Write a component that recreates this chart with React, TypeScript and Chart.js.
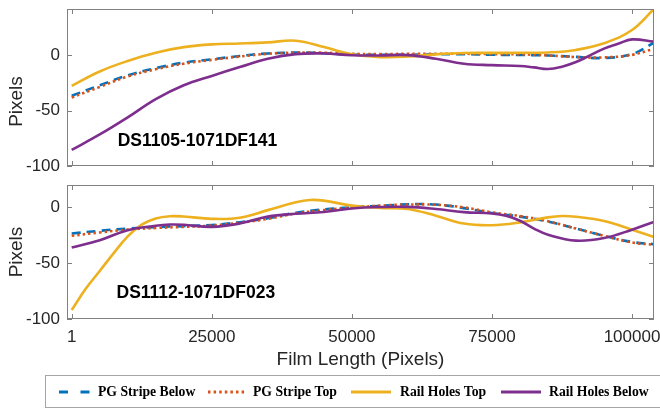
import React, { useEffect, useRef } from "react";
import { Chart, registerables } from "chart.js";

Chart.register(...registerables);

// ---------- data ----------
const seriesNames = ["PG Stripe Below", "PG Stripe Top", "Rail Holes Top", "Rail Holes Below"];
const seriesColors = ["#0072BD", "#D95319", "#EDB120", "#7E2F8E"];

const xTicks = [1, 25000, 50000, 75000, 100000];
const yTicks = [-100, -50, 0];
const xMin = -837;
const xMax = 103921;
const topYMin = -100;
const topYMax = 42;
const botYMin = -100;
const botYMax = 20;

const topLabel = "DS1105-1071DF141";
const botLabel = "DS1112-1071DF023";
const topLabelPos = [8200, -77.5];
const botLabelPos = [8000, -76.8];

// top panel
const topX = [0, 5000, 10000, 15000, 20000, 25000, 30000, 35000, 40000, 45000, 50000, 55000, 60000, 65000, 70000, 75000, 80000, 85000, 90000, 95000, 100000, 103900];
const topPgBelow = [-36.5, -27, -18, -11.5, -6.5, -3.5, -0.5, 1.8, 2.6, 2, 0.8, 0.5, 0.6, 1, 1.1, 0.6, 0.4, 0, -1.3, -2.3, 1.2, 11.5];
const topPgTop = [-38, -28.5, -19, -12.5, -7.5, -4, -1, 1.5, 2.5, 2.5, 1.5, 1.2, 1.5, 1.5, 1.5, 1.2, 1, 0, -1.5, -1.8, 0.5, 6];
const topRailTop = [-27.5, -14.5, -5, 2.5, 7.5, 10, 10.8, 11.8, 13.3, 7.6, 1, -1.5, -1, 1, 2.2, 2.3, 2.4, 2.7, 5, 11, 23, 42];
const topRailBelowX = [0, 5000, 10000, 15000, 20000, 25000, 30000, 35000, 40000, 45000, 50000, 55000, 60000, 65000, 70000, 75000, 80000, 82500, 85000, 87500, 90000, 92500, 95000, 97500, 100000, 103900];
const topRailBelow = [-85.5, -71.5, -56, -39.5, -27, -18.5, -10.5, -3, 1.2, 1.8, 0.2, 0, 0.3, -3, -7.5, -8.8, -9.6, -10.8, -12.3, -10.2, -6, 0, 6.2, 10.5, 14.5, 12.5];

// bottom panel
const botPgX = [0, 5000, 10000, 15000, 20000, 25000, 30000, 35000, 40000, 45000, 50000, 55000, 60000, 65000, 70000, 75000, 80000, 85000, 90000, 95000, 100000, 103900];
const botPgBelow = [-23.5, -21, -19, -17.7, -16.8, -15.8, -13.3, -9.8, -4.8, -1.8, 0, 1.3, 2.7, 2.5, -0.7, -5, -8.3, -12.7, -19, -25.5, -31, -33];
const botPgTop = [-25.5, -22.5, -20, -18.5, -17.5, -16.3, -13.8, -10.3, -5.5, -2.5, -0.3, 1.5, 2.5, 2.3, 0, -4.5, -7.8, -12.5, -19, -25.5, -31.5, -33.5];
const botRailTopX = [0, 2500, 5000, 7500, 10000, 12500, 15000, 17500, 20000, 25000, 30000, 35000, 40000, 42500, 45000, 50000, 55000, 60000, 65000, 70000, 75000, 80000, 85000, 87500, 90000, 95000, 100000, 103900];
const botRailTop = [-92, -73, -57, -41, -26, -15.5, -10, -8, -8.2, -10.3, -9.3, -2.5, 4.5, 6.6, 6, 1.5, -0.5, -1.5, -7.5, -14.5, -16, -13.5, -9, -7.8, -8.5, -12.2, -20, -26.5];
const botRailBelowX = [0, 5000, 10000, 15000, 17500, 20000, 25000, 30000, 35000, 40000, 45000, 50000, 55000, 60000, 65000, 70000, 75000, 77500, 80000, 82500, 85000, 90000, 95000, 100000, 103900];
const botRailBelow = [-36, -29.5, -20.5, -16.5, -15.4, -15.6, -17.5, -14.5, -8.3, -5.8, -4.2, -1, 0.3, 0.4, -1.5, -4.3, -5.5, -7.5, -12, -19, -24.5, -29.8, -27.5, -20, -13];

// ---------- styling ----------
const sansFamily = '"Liberation Sans", Arial, Helvetica, sans-serif';
const serifFamily = '"Liberation Serif", "Times New Roman", serif';
const textColor = "#262626";
const frameColor = "#808080";
const seriesDash: number[][] = [[9, 6], [2.5, 3], [], []];
const seriesOrder = [3, 2, 1, 0];

const framePlugin = {
  id: "frame",
  afterDatasetsDraw(chart: any, _args: any, opts: any) {
    const { ctx, chartArea, scales } = chart;
    const { left, right, top, bottom } = chartArea;
    ctx.save();
    ctx.strokeStyle = frameColor;
    ctx.lineWidth = 1;
    ctx.setLineDash([]);
    ctx.strokeRect(Math.round(left) + 0.5, Math.round(top) + 0.5, Math.round(right - left) - 1, Math.round(bottom - top) - 1);
    const tl = 5;
    ctx.beginPath();
    xTicks.forEach((v) => {
      const x = Math.round(scales.x.getPixelForValue(v)) + 0.5;
      ctx.moveTo(x, bottom);
      ctx.lineTo(x, bottom - tl);
      ctx.moveTo(x, top);
      ctx.lineTo(x, top + tl);
    });
    yTicks.forEach((v) => {
      const y = Math.round(scales.y.getPixelForValue(v)) + 0.5;
      ctx.moveTo(left, y);
      ctx.lineTo(left + tl, y);
      ctx.moveTo(right, y);
      ctx.lineTo(right - tl, y);
    });
    ctx.stroke();

    // panel label
    ctx.font = `bold 17.5px ${sansFamily}`;
    ctx.fillStyle = "#000";
    ctx.textAlign = "left";
    ctx.textBaseline = "middle";
    ctx.fillText(opts.label, scales.x.getPixelForValue(opts.pos[0]), scales.y.getPixelForValue(opts.pos[1]));

    // y title
    ctx.save();
    ctx.translate(17, (top + bottom) / 2 + opts.titleShift);
    ctx.rotate(-Math.PI / 2);
    ctx.font = `19px ${sansFamily}`;
    ctx.fillStyle = textColor;
    ctx.textAlign = "center";
    ctx.textBaseline = "middle";
    ctx.fillText("Pixels", 0, 0);
    ctx.restore();
    ctx.restore();
  },
};

const legendSamples = [[59, 90], [208, 246], [351, 391], [501, 541]];
const legendTextX = [98, 253, 400, 549];
const legendDash = [[9, 12.5], [2.5, 3.1], [], []];

const legendPlugin = {
  id: "boxLegend",
  afterDraw(chart: any) {
    const { ctx } = chart;
    ctx.save();
    ctx.strokeStyle = "#a6a6a6";
    ctx.lineWidth = 1;
    ctx.setLineDash([]);
    ctx.strokeRect(45.5, 200.5, 640, 32);
    const cy = 217;
    ctx.font = `bold 13.7px ${serifFamily}`;
    ctx.textAlign = "left";
    ctx.textBaseline = "middle";
    seriesNames.forEach((name, i) => {
      ctx.beginPath();
      ctx.setLineDash(legendDash[i]);
      ctx.lineCap = "butt";
      ctx.strokeStyle = seriesColors[i];
      ctx.lineWidth = 3;
      ctx.moveTo(legendSamples[i][0], cy);
      ctx.lineTo(legendSamples[i][1], cy);
      ctx.stroke();
      ctx.setLineDash([]);
      ctx.fillStyle = "#000";
      ctx.fillText(name, legendTextX[i], cy + 0.5);
    });
    ctx.restore();
  },
};

type Series = { x: number[]; y: number[] };

function panelConfig(series: Series[], isBottom: boolean, yMin: number, yMax: number, label: string, pos: number[], titleShift: number): any {
  return {
    type: "line",
    data: {
      datasets: series.map((s, i) => ({
        label: seriesNames[i],
        data: s.x.map((x, j) => ({ x, y: s.y[j] })),
        borderColor: seriesColors[i],
        backgroundColor: seriesColors[i],
        borderWidth: 2.6,
        borderDash: seriesDash[i],
        borderCapStyle: "butt",
        pointRadius: 0,
        tension: 0.4,
        fill: false,
        order: seriesOrder[i],
      })),
    },
    options: {
      animation: false,
      responsive: false,
      events: [],
      layout: {
        padding: isBottom ? { left: 0, right: 6, top: 10, bottom: 38 } : { left: 0, right: 6, top: 9, bottom: 9 },
      },
      plugins: {
        legend: { display: false },
        tooltip: { enabled: false },
        frame: { label, pos, titleShift },
      },
      scales: {
        x: {
          type: "linear",
          min: xMin,
          max: xMax,
          display: isBottom,
          grid: { display: false, drawTicks: false },
          border: { display: false },
          afterBuildTicks: (s: any) => {
            s.ticks = xTicks.map((value) => ({ value }));
          },
          afterFit: (s: any) => {
            if (isBottom) {
              s.height = 52;
            }
            s.paddingLeft = 0;
            s.paddingRight = 0;
          },
          ticks: {
            font: { family: sansFamily, size: 17 },
            color: textColor,
            padding: 8,
            maxRotation: 0,
            autoSkip: false,
            callback: (v: any) => String(v),
          },
          title: {
            display: true,
            text: "Film Length (Pixels)",
            font: { family: sansFamily, size: 19 },
            color: textColor,
            padding: 0,
          },
        },
        y: {
          type: "linear",
          min: yMin,
          max: yMax,
          grid: { display: false, drawTicks: false },
          border: { display: false },
          afterBuildTicks: (s: any) => {
            s.ticks = yTicks.map((value) => ({ value }));
          },
          afterFit: (s: any) => {
            s.width = 67;
            s.paddingTop = 0;
            s.paddingBottom = 0;
          },
          ticks: {
            font: { family: sansFamily, size: 17 },
            color: textColor,
            padding: 7,
            autoSkip: false,
            callback: (v: any) => String(v),
          },
        },
      },
    },
    plugins: isBottom ? [framePlugin, legendPlugin] : [framePlugin],
  };
}

export default function App() {
  const topRef = useRef<HTMLCanvasElement>(null);
  const botRef = useRef<HTMLCanvasElement>(null);

  useEffect(() => {
    const topSeries: Series[] = [
      { x: topX, y: topPgBelow },
      { x: topX, y: topPgTop },
      { x: topX, y: topRailTop },
      { x: topRailBelowX, y: topRailBelow },
    ];
    const botSeries: Series[] = [
      { x: botPgX, y: botPgBelow },
      { x: botPgX, y: botPgTop },
      { x: botRailTopX, y: botRailTop },
      { x: botRailBelowX, y: botRailBelow },
    ];
    const c1 = new Chart(topRef.current as HTMLCanvasElement, panelConfig(topSeries, false, topYMin, topYMax, topLabel, topLabelPos, 14));
    const c2 = new Chart(botRef.current as HTMLCanvasElement, panelConfig(botSeries, true, botYMin, botYMax, botLabel, botLabelPos, 0));
    return () => {
      c1.destroy();
      c2.destroy();
    };
  }, []);

  return (
    <div style={{ position: "fixed", left: 0, top: 0, width: 660, height: 409, background: "#fff", overflow: "hidden" }}>
      <canvas ref={topRef} width={660} height={175} style={{ position: "absolute", left: 0, top: 0, width: 660, height: 175 }} />
      <canvas ref={botRef} width={660} height={234} style={{ position: "absolute", left: 0, top: 175, width: 660, height: 234 }} />
    </div>
  );
}
